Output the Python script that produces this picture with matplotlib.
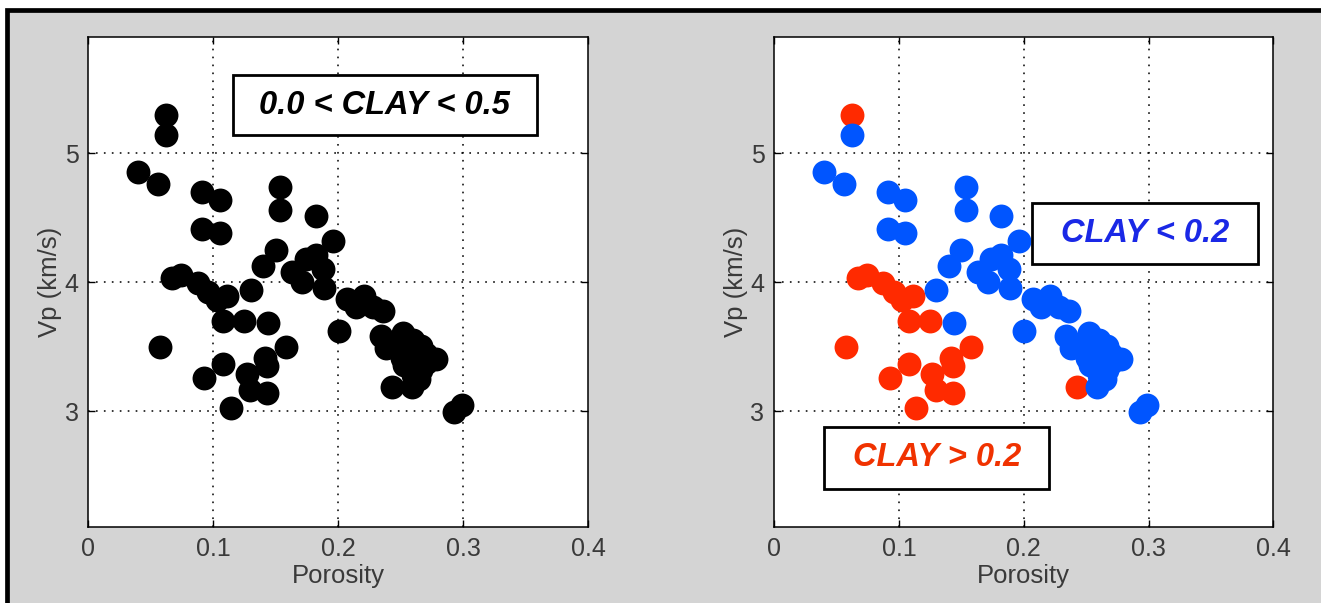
import matplotlib
matplotlib.use("Agg")
import matplotlib.pyplot as plt
from matplotlib.patches import Rectangle
from matplotlib.lines import Line2D

# Porosity / Vp samples split by clay content
red_por = [0.062, 0.067, 0.074, 0.0875, 0.096, 0.1027, 0.111, 0.1078, 0.1247, 0.0575,
           0.1078, 0.0924, 0.1266, 0.1416, 0.1432, 0.158, 0.1297, 0.1432, 0.1139, 0.243]
red_vp = [5.30, 4.03, 4.055, 3.99, 3.925, 3.86, 3.89, 3.695, 3.695, 3.497,
          3.367, 3.253, 3.285, 3.41, 3.35, 3.497, 3.16, 3.137, 3.026, 3.188]

blue_por = [0.062, 0.040, 0.056, 0.091, 0.105, 0.091, 0.105, 0.1535, 0.1535, 0.182,
            0.196, 0.150, 0.140, 0.130, 0.144, 0.163, 0.171, 0.174, 0.182, 0.188,
            0.189, 0.2005, 0.207, 0.214, 0.221, 0.228, 0.236, 0.234, 0.238, 0.252,
            0.260, 0.2666, 0.278, 0.251, 0.259, 0.260, 0.2666, 0.259, 0.293, 0.299,
            0.270, 0.265, 0.247, 0.256, 0.262, 0.270, 0.253]
blue_vp = [5.145, 4.851, 4.764, 4.70, 4.64, 4.412, 4.382, 4.737, 4.562, 4.517,
           4.32, 4.25, 4.125, 3.94, 3.68, 4.075, 4.005, 4.18, 4.21, 4.10,
           3.955, 3.62, 3.87, 3.805, 3.895, 3.81, 3.78, 3.585, 3.487, 3.605,
           3.55, 3.505, 3.405, 3.415, 3.345, 3.28, 3.32, 3.19, 2.99, 3.05,
           3.44, 3.25, 3.50, 3.46, 3.41, 3.37, 3.36]

x_ticks = [0, 0.1, 0.2, 0.3, 0.4]
x_ticklabels = ["0", "0.1", "0.2", "0.3", "0.4"]
y_ticks = [3, 4, 5]
y_ticklabels = ["3", "4", "5"]

label_all = "0.0 < CLAY < 0.5"
label_low = "CLAY < 0.2"
label_high = "CLAY > 0.2"

FONT = "Liberation Sans"
plt.rcParams["font.family"] = [FONT, "DejaVu Sans"]

W, H = 1321, 603
fig = plt.figure(figsize=(W / 100, H / 100), dpi=100, facecolor="white")

# grey panel with a black frame along its top and left edges
fig.patches.append(Rectangle((6.5 / W, 0), 1 - 6.5 / W, 1 - 9.5 / H,
                             transform=fig.transFigure, facecolor="#d4d4d4",
                             edgecolor="none", zorder=-2))
fig.lines.append(Line2D([6.5 / W, 6.5 / W, 1], [0, 1 - 9.5 / H, 1 - 9.5 / H],
                        transform=fig.transFigure, color="black", linewidth=3.4,
                        solid_joinstyle="miter", zorder=-1))

MS = 17.2
GRID_KW = dict(color="black", linewidth=1.1, linestyle=(0, (1.1, 4.1)))
TXT = "#3a3a3a"


def style_axes(ax):
    ax.set_xlim(0, 0.4)
    ax.set_ylim(2.1, 5.9)
    ax.set_xticks(x_ticks)
    ax.set_xticklabels(x_ticklabels)
    ax.set_yticks(y_ticks)
    ax.set_yticklabels(y_ticklabels)
    ax.tick_params(direction="in", length=5, width=1.0, top=True, right=True,
                   labelsize=18, labelcolor=TXT, pad=7)
    for s in ax.spines.values():
        s.set_linewidth(1.1)
    for xv in [0.1, 0.2, 0.3]:
        ax.axvline(xv, zorder=1, **GRID_KW)
    for yv in [3, 4, 5]:
        ax.axhline(yv, zorder=1, **GRID_KW)
    ax.set_xlabel("Porosity", fontsize=18.5, color=TXT, labelpad=2)
    ax.set_ylabel("Vp (km/s)", fontsize=18.5, color=TXT, labelpad=2)


def label_box(ax, x0, y0, x1, y1, text, color):
    ax.add_patch(Rectangle((x0, y0), x1 - x0, y1 - y0, transform=ax.transAxes,
                           facecolor="white", edgecolor="black", linewidth=2.0,
                           zorder=5))
    ax.text((x0 + x1) / 2, (y0 + y1) / 2, text, transform=ax.transAxes,
            ha="center", va="center", fontsize=23.5, fontweight="bold",
            fontstyle="italic", color=color, zorder=6)


ax1 = fig.add_axes([88.4 / W, 76 / H, 499.6 / W, 489.7 / H])
ax2 = fig.add_axes([774.2 / W, 76 / H, 499.2 / W, 489.7 / H])

# left: all samples in black
ax1.plot(red_por + blue_por, red_vp + blue_vp, "o", color="black", ms=MS, mew=0,
         zorder=3)
style_axes(ax1)
label_box(ax1, 0.2888, 0.7997, 0.8971, 0.923, label_all, "black")

# right: coloured by clay fraction
ax2.plot(red_por, red_vp, "o", color="#ff2a00", ms=MS, mew=0, zorder=3)
ax2.plot(blue_por, blue_vp, "o", color="#0055ff", ms=MS, mew=0, zorder=4)
style_axes(ax2)
label_box(ax2, 0.517, 0.537, 0.9688, 0.6616, label_low, "#1a28e6")
label_box(ax2, 0.1006, 0.0786, 0.5507, 0.2042, label_high, "#f03200")

fig.savefig("out.png", dpi=100, facecolor=fig.get_facecolor())
